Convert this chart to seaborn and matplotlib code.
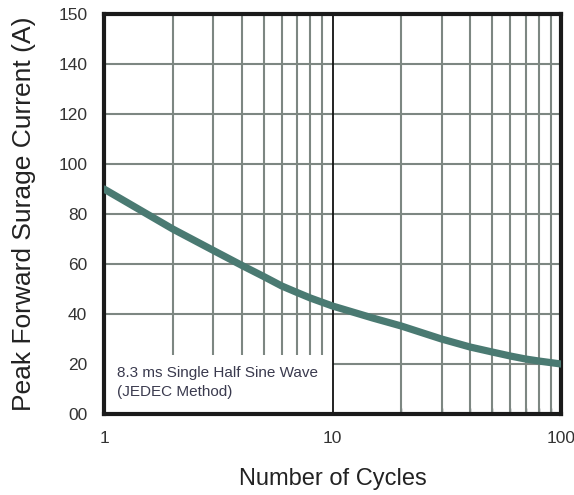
import numpy as np
import pandas as pd
import seaborn as sns
import matplotlib.pyplot as plt
from matplotlib.patches import Rectangle
from matplotlib.ticker import FixedLocator, NullFormatter

# data
cycles = [1, 2, 3, 4, 5, 6, 7, 8, 10, 15, 20, 30, 40, 50, 60, 70, 80, 100]
current = [90, 74, 65.5, 59.5, 55, 51.2, 48.6, 46.4, 43.2, 38.4, 35.2, 30, 26.8, 24.8, 23.2, 22, 21.2, 20]

x_major = [1, 10, 100]
x_minor = [2, 3, 4, 5, 6, 7, 8, 9, 20, 30, 40, 50, 60, 70, 80, 90]
y_ticks = [0, 20, 40, 60, 80, 100, 120, 140, 160]
y_labels = ["00", "20", "40", "60", "80", "100", "120", "140", "150"]
y_grid = [20, 40, 60, 80, 100, 120, 140]
note = "8.3 ms Single Half Sine Wave\n(JEDEC Method)"

sns.set_theme(style="white")
plt.rcParams['font.family'] = ['Liberation Sans', 'DejaVu Sans']

df = pd.DataFrame({"cycles": cycles, "current": current})

fig, ax = plt.subplots(figsize=(5.74, 4.95), dpi=100)
fig.subplots_adjust(left=0.1812, right=0.9774, top=0.9717, bottom=0.1636)

ax.set_xscale("log")
ax.set_xlim(x_major[0], x_major[-1])
ax.set_ylim(y_ticks[0], y_ticks[-1])

# grid drawn by hand so the note box can cover it
grid_col = "#7d8782"
ax.vlines(x_minor, 0, 1, transform=ax.get_xaxis_transform(), color=grid_col, lw=1.5, zorder=1)
ax.hlines(y_grid, 0, 1, transform=ax.get_yaxis_transform(), color=grid_col, lw=1.5, zorder=1)

ax.add_patch(Rectangle((1, 0), 9, 23.5, facecolor="white", edgecolor="none", zorder=1.5))
ax.axvline(x_major[1], color="#111111", lw=1.3, zorder=1.6)

sns.lineplot(data=df, x="cycles", y="current", ax=ax, color="#4a7a72", lw=5.2, zorder=3)

ax.text(1.14, 12.6, note, fontsize=11, color="#3a3a4e", va="center", ha="left",
        linespacing=1.4, zorder=2)

ax.xaxis.set_major_locator(FixedLocator(x_major))
ax.set_xticklabels([str(v) for v in x_major])
ax.xaxis.set_minor_locator(FixedLocator(x_minor))
ax.xaxis.set_minor_formatter(NullFormatter())
ax.set_yticks(y_ticks)
ax.set_yticklabels(y_labels)

ax.tick_params(axis="both", which="major", length=0, labelsize=12.5, labelcolor="#333333")
ax.tick_params(axis="x", which="major", pad=12)
ax.tick_params(axis="y", which="major", pad=12)
ax.tick_params(axis="x", which="minor", direction="in", length=4, width=1, color="#555555", bottom=True)

for s in ax.spines.values():
    s.set_visible(True)
    s.set_color("#1a1a1a")
    s.set_linewidth(3)

ax.set_xlabel("Number of Cycles", fontsize=17, color="#222222", labelpad=16)
ax.set_ylabel("Peak Forward Surage Current (A)", fontsize=19, color="#222222")
ax.yaxis.set_label_coords(-0.148, 0.5)

fig.savefig("out.png", dpi=100, facecolor="white")
